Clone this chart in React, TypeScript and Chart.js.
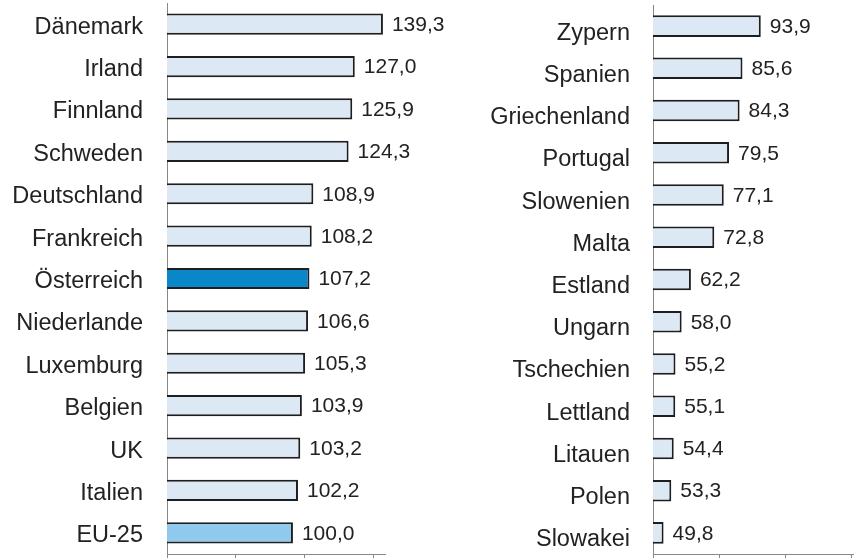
import React, { useEffect, useRef } from "react";
import { Chart, registerables } from "chart.js";

Chart.register(...registerables);

const leftCategories = [
  "Dänemark", "Irland", "Finnland", "Schweden", "Deutschland", "Frankreich",
  "Österreich", "Niederlande", "Luxemburg", "Belgien", "UK", "Italien", "EU-25",
];
const leftValues = [139.3, 127.0, 125.9, 124.3, 108.9, 108.2, 107.2, 106.6, 105.3, 103.9, 103.2, 102.2, 100.0];

const rightCategories = [
  "Zypern", "Spanien", "Griechenland", "Portugal", "Slowenien", "Malta", "Estland",
  "Ungarn", "Tschechien", "Lettland", "Litauen", "Polen", "Slowakei",
];
const rightValues = [93.9, 85.6, 84.3, 79.5, 77.1, 72.8, 62.2, 58.0, 55.2, 55.1, 54.4, 53.3, 49.8];

const xTickValues = [45, 75, 105, 135];

const FONT = "'Liberation Sans', Arial, Helvetica, sans-serif";
const LIGHT = "#dce9f5";
const AUSTRIA = "#0a87c9";
const EU = "#8fcaee";

function colorFor(cat: string) {
  if (cat === "Österreich") return AUSTRIA;
  if (cat === "EU-25") return EU;
  return LIGHT;
}

const valueLabelPlugin = {
  id: "valueLabels",
  afterDatasetsDraw(chart: any) {
    const ctx = chart.ctx;
    const meta = chart.getDatasetMeta(0);
    const data = chart.data.datasets[0].data as number[];
    ctx.save();
    ctx.font = `21px ${FONT}`;
    ctx.fillStyle = "#222";
    ctx.textAlign = "left";
    ctx.textBaseline = "middle";
    meta.data.forEach((bar: any, i: number) => {
      const txt = data[i].toFixed(1).replace(".", ",");
      ctx.fillText(txt, bar.x + 9, bar.y + 1);
    });
    ctx.restore();
  },
};

function makeConfig(
  cats: string[],
  vals: number[],
  opts: { axisWidth: number; max: number; padTop: number; padRight: number; labelPad: number; labelOffset: number; barPct: number }
): any {
  return {
    type: "bar",
    data: {
      labels: cats,
      datasets: [
        {
          data: vals,
          backgroundColor: cats.map(colorFor),
          borderColor: "#1e1e1e",
          borderWidth: 2,
          borderSkipped: false,
          categoryPercentage: 1,
          barPercentage: opts.barPct,
        },
      ],
    },
    options: {
      indexAxis: "y",
      responsive: false,
      animation: false,
      layout: { padding: { top: opts.padTop, right: opts.padRight, left: 0, bottom: 0 } },
      plugins: { legend: { display: false }, tooltip: { enabled: false } },
      scales: {
        x: {
          min: 45,
          max: opts.max,
          afterBuildTicks: (scale: any) => {
            scale.ticks = xTickValues.map((v) => ({ value: v }));
          },
          afterFit: (scale: any) => {
            scale.height = 4;
            scale.paddingLeft = 0;
            scale.paddingRight = 0;
          },
          grid: { drawOnChartArea: false, drawTicks: true, tickLength: 4, color: "#888" },
          border: { display: true, color: "#888", width: 1 },
          ticks: { display: false, padding: 0 },
        },
        y: {
          afterFit: (scale: any) => {
            scale.width = opts.axisWidth;
            scale.paddingTop = 0;
            scale.paddingBottom = 0;
          },
          grid: { display: false, drawTicks: false },
          border: { display: true, color: "#888", width: 1 },
          ticks: {
            font: { family: FONT, size: 23.5 },
            color: "#222",
            padding: opts.labelPad,
            labelOffset: opts.labelOffset,
            autoSkip: false,
          },
        },
      },
    },
    plugins: [valueLabelPlugin],
  };
}

function BarPanel(props: { cats: string[]; vals: number[]; width: number; left: number; opts: any }) {
  const ref = useRef<HTMLCanvasElement | null>(null);
  useEffect(() => {
    if (!ref.current) return;
    const chart = new Chart(ref.current, makeConfig(props.cats, props.vals, props.opts));
    return () => chart.destroy();
  }, []);
  return (
    <canvas
      ref={ref}
      width={props.width}
      height={558}
      style={{ position: "absolute", left: props.left, top: 0, width: props.width, height: 558 }}
    />
  );
}

export default function App() {
  return (
    <div style={{ position: "absolute", left: 0, top: 0, width: 854, height: 558, background: "#fff" }}>
      <BarPanel
        cats={leftCategories}
        vals={leftValues}
        width={460}
        left={0}
        opts={{ axisWidth: 167, max: 140.2, padTop: 3, padRight: 75, labelPad: 24, labelOffset: 3, barPct: 0.5 }}
      />
      <BarPanel
        cats={rightCategories}
        vals={rightValues}
        width={424}
        left={430}
        opts={{ axisWidth: 223, max: 136.2, padTop: 5, padRight: 0, labelPad: 23, labelOffset: 7, barPct: 0.51 }}
      />
    </div>
  );
}
